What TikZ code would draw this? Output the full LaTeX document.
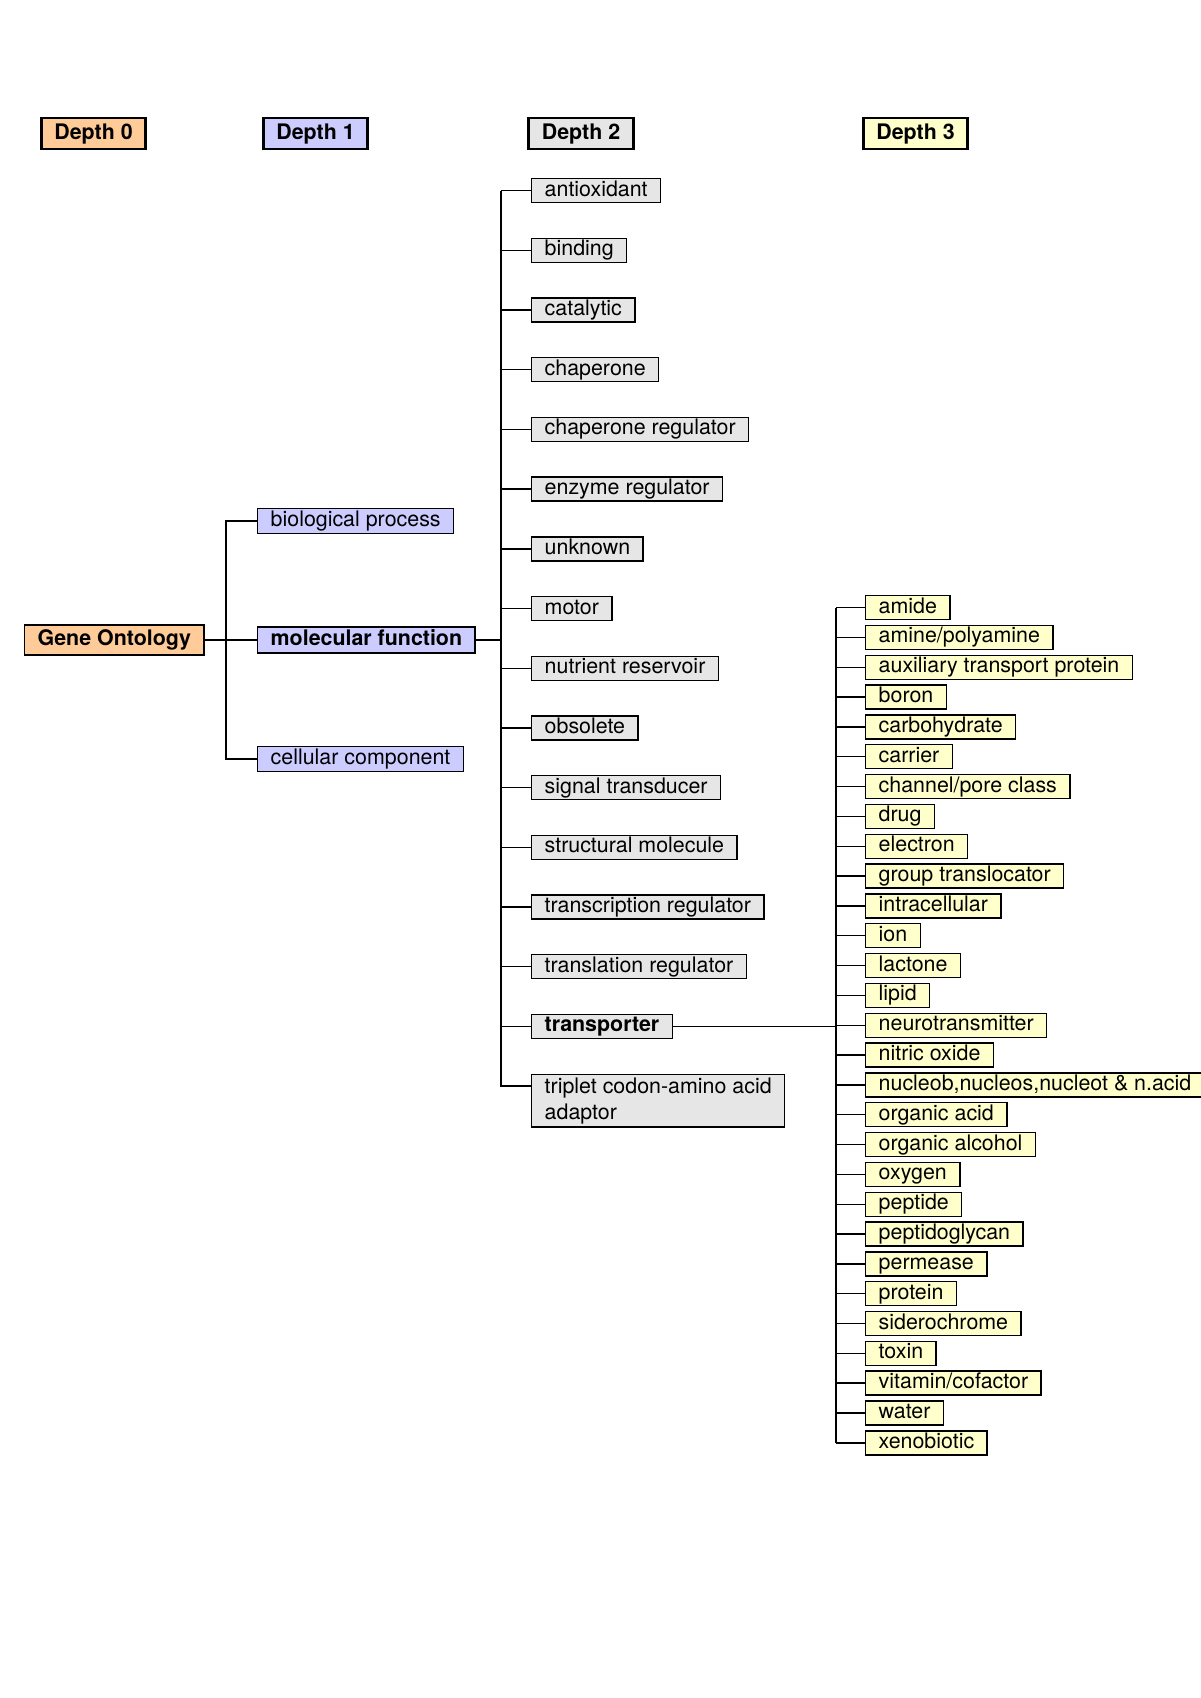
\documentclass[tikz,border=0pt]{standalone}
\usepackage{fontspec}
\setmainfont{TeX Gyre Heros}
\usepackage{xcolor}
\definecolor{dzero}{HTML}{FFCC99}
\definecolor{done}{HTML}{CCCCFF}
\definecolor{dtwo}{HTML}{E6E6E6}
\definecolor{dthree}{HTML}{FFFFCC}
\usetikzlibrary{positioning,calc}
\tikzset{
  plain/.style={draw=black,line width=0.7pt,inner xsep=6.5pt,font=\fontsize{10.7}{13}\selectfont,anchor=west},
  box/.style={plain,inner ysep=0.75pt,text height=8pt,text depth=2.5pt},
  head/.style={box,line width=1.4pt,inner ysep=2.5pt,anchor=center,font=\fontsize{10.7}{13}\selectfont\bfseries},
  d0box/.style={box,fill=dzero},
  d1box/.style={box,fill=done},
  d2box/.style={box,fill=dtwo},
  d3box/.style={box,fill=dthree},
  link/.style={draw=black,line width=0.7pt},
}
\begin{document}
\begin{tikzpicture}[x=0.5pt,y=-0.5pt]
\useasboundingbox (0,0) rectangle (1200,1698);
% column heads
\node[head,fill=dzero] (h0) at (93.5,133.5) {Depth 0};
\node[head,fill=done] (h1) at (315.5,133.5) {Depth 1};
\node[head,fill=dtwo] (h2) at (581,133.5) {Depth 2};
\node[head,fill=dthree] (h3) at (915.5,133.5) {Depth 3};
% depth 0 and 1
\node[d0box,inner ysep=2.25pt,font=\fontsize{10.7}{13}\selectfont\bfseries] (go) at (24,640) {Gene Ontology};
\node[d1box,inner ysep=1pt] (bp) at (257,521) {biological process};
\node[d1box,inner ysep=1.25pt,font=\fontsize{10.7}{13}\selectfont\bfseries] (mf) at (257,640) {molecular function};
\node[d1box,inner ysep=1pt] (cc) at (257,759) {cellular component};
\coordinate (sp1) at (226,640);
\coordinate (sp2) at (501,640);
\coordinate (sp3) at (836,640);
\draw[link] (go.east) -- (mf.west);
\draw[link] (bp.west) -- (bp.west -| sp1) -- (cc.west -| sp1) -- (cc.west);
\draw[link] (mf.east) -- (mf.east -| sp2);
% depth 2
\foreach \lab [count=\i] in {antioxidant,binding,catalytic,chaperone,chaperone regulator,enzyme regulator,unknown,motor,nutrient reservoir,obsolete,signal transducer,structural molecule,transcription regulator,translation regulator,{\bfseries transporter}}{
  \node[d2box] (d2-\i) at (531,{190.6+(\i-1)*59.7}) {\lab};
  \draw[link] (d2-\i.west) -- (d2-\i.west -| sp2);
}
\node[plain,fill=dtwo,anchor=north west,align=left,inner ysep=1.5pt] (d2-16) at (531,1074) {triplet codon-amino acid\\adaptor};
\coordinate (d2-16in) at (531,1086);
\draw[link] (d2-16in) -- (d2-16in -| sp2) -- (d2-1.west -| sp2);
% depth 3
\foreach \lab [count=\i] in {amide,amine/polyamine,auxiliary transport protein,boron,carbohydrate,carrier,channel/pore class,drug,electron,group translocator,intracellular,ion,lactone,lipid,neurotransmitter,nitric oxide,{nucleob,nucleos,nucleot \& n.acid},organic acid,organic alcohol,oxygen,peptide,peptidoglycan,permease,protein,siderochrome,toxin,vitamin/cofactor,water,xenobiotic}{
  \node[d3box] (d3-\i) at (865,{607.6+(\i-1)*29.83}) {\lab};
  \draw[link] (d3-\i.west) -- (d3-\i.west -| sp3);
}
\draw[link] (d3-1.west -| sp3) -- (d3-29.west -| sp3);
\draw[link] (d2-15.east) -- (d2-15.east -| sp3);
\end{tikzpicture}
\end{document}
